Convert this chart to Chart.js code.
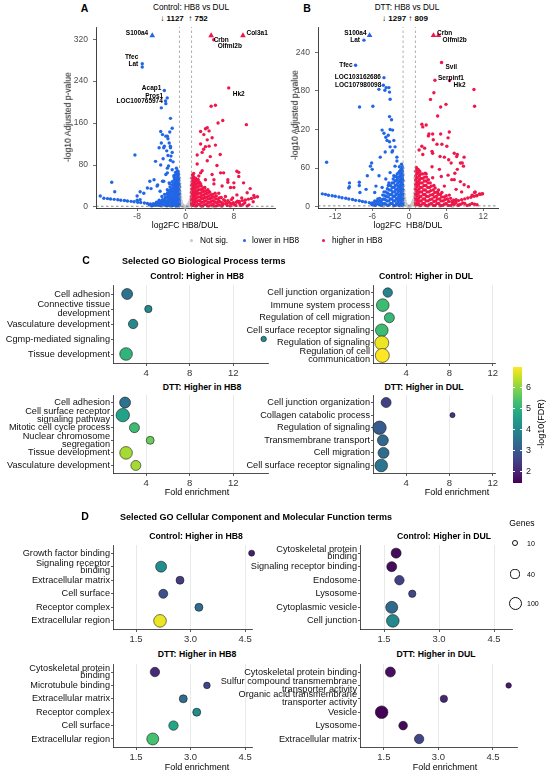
<!DOCTYPE html>
<html><head><meta charset="utf-8">
<script src="https://cdn.jsdelivr.net/npm/chart.js@4.4.1/dist/chart.umd.min.js"></script>
<style>
html,body{margin:0;padding:0;background:#fff;}
#page{position:relative;width:550px;height:774px;overflow:hidden;font-family:'Liberation Sans',Arial,sans-serif;color:#000;background:#fff;}
.t{position:absolute;white-space:pre;line-height:1;}
canvas{position:absolute;}
</style></head><body><div id="page"></div>
<script>
// ---------------- DATA ----------------
// Volcano A (Control: HB8 vs DUL)
const aTicksX = [-8, 0, 8];
const aTicksY = [0, 80, 160, 240, 320];
const aCounts = ['1127', '752'];
const aLowerCapped = [[-5.5, 327]];
const aHigherCapped = [[4.24, 327], [9.5, 327]];
const aLower = [
 [-7.15,273],[-7.15,267],[-3.5,222],[-3.02,208],[-3.25,197],[-4.0,189],[-3.3,202],[-2.48,169],[-8.36,99],
 [-4.1,144],[-3.8,138],[-3.25,135],[-2.9,130],[-2.7,122],[-3.5,116],[-2.48,113],[-4.36,113],[-3.1,107],[-2.2,104],
 [-2.9,98],[-3.7,92],[-2.5,89],[-2.06,86],[-4.95,87],[-4.1,80],[-3.0,74],[-2.2,71],[-5.2,52],[-6.3,36],[-12.2,47],
 [-11.7,29],[-14.1,21],[-8.0,21],[-3.25,62],[-3.8,49],[-2.7,46],[-4.6,42],[-5.7,35],[-1.9,60],[-1.65,66],[-1.5,74],
 [-5.9,49],[-7.5,29],[-6.9,26],[-8.0,13],[-7.5,14],[-4.7,40],[-4.2,30],[-3.6,49],[-3.0,65],[-2.8,78],[-2.4,97],
 [-2.5,116],[-3.6,113],[-4.0,122],[-3.0,135],[-2.6,143],[-2.2,150],
 [-13.5,16.6],[-12.9,15.9],[-12.4,15.1],[-11.8,14.5],[-11.2,13.6],[-10.7,12.9],[-10.1,12.2],[-9.6,11.3],[-9.0,10.7],
 [-8.5,9.9],[-7.9,9.1],[-7.4,8.5],[-6.8,7.6],[-6.3,6.8],[-5.8,5.7],
 [-1.05,3],[-1.1,9],[-1.08,15],[-1.12,22],[-1.1,28],[-1.15,35],[-1.1,41],[-1.2,47],[-1.18,53],[-1.25,58],[-1.3,64],[-1.35,69],
 [-1.3,5],[-1.35,12],[-1.4,18],[-1.38,25],[-1.45,31],[-1.4,38],[-1.5,44],[-1.48,50],[-1.55,56],[-1.6,62],
 [-1.6,2],[-1.65,8],[-1.7,14],[-1.62,21],[-1.75,27],[-1.7,33],[-1.8,39],[-1.78,46],[-1.85,52],[-1.9,57],
 [-1.9,4],[-1.95,11],[-2.0,17],[-2.05,23],[-2.0,30],[-2.1,36],[-2.15,42],[-2.2,48],
 [-2.25,2],[-2.3,7],[-2.35,13],[-2.3,19],[-2.45,26],[-2.5,32],[-2.55,38],[-2.6,44],
 [-2.7,3],[-2.75,9],[-2.8,15],[-2.85,21],[-2.95,27],[-3.0,33],
 [-3.1,2],[-3.2,7],[-3.25,12],[-3.35,18],[-3.45,24],
 [-3.6,4],[-3.7,9],[-3.8,14],[-3.9,20],[-4.1,3],[-4.2,8],[-4.35,13],[-4.6,5],[-4.8,9],[-5.0,3],[-5.3,6],[-5.6,2],[-6.0,4],
 [-1.02,6],[-1.03,12],[-1.05,19],[-1.04,25],[-1.06,32],[-1.05,38],[-1.08,44],[-1.1,50],[-1.12,56],[-1.15,62],[-1.2,67],
 [-1.22,2],[-1.25,8],[-1.22,14],[-1.28,20],[-1.25,27],[-1.3,33],[-1.28,40],[-1.35,46],[-1.32,52],
 [-1.5,4],[-1.52,10],[-1.55,16],[-1.5,23],[-1.58,29],[-1.55,36],[-1.62,42],[-1.65,48],[-1.7,54],
 [-1.8,6],[-1.82,12],[-1.85,18],[-1.88,25],[-1.9,31],[-1.95,37],[-2.0,43],
 [-2.1,3],[-2.15,9],[-2.2,15],[-2.22,21],[-2.28,28],[-2.35,34],
 [-2.45,4],[-2.5,11],[-2.55,17],[-2.62,23],[-2.7,29],
 [-2.9,6],[-2.95,12],[-3.0,18],[-3.1,24],
 [-3.3,3],[-3.4,9],[-3.5,14],[-3.9,6],[-4.0,11],[-4.4,3],[-4.5,9],[-4.9,6],[-5.4,3]
];
const aHigher = [
 [4.67,319],[7.15,227],[4.24,192],[4.95,194],[10.07,157],[6.16,165],[5.38,160],[3.3,149],[3.6,151],[3.03,138],[3.9,145],
 [4.4,132],[2.5,120],[4.95,118],[3.3,115],[1.93,99],[2.75,104],[4.1,96],[5.74,100],[3.6,88],[5.2,79],[8.5,68],[8.8,58],
 [6.3,65],[1.93,82],[2.75,69],[4.4,62],[7.0,52],[8.0,46],[9.6,46],[10.7,35],[11.3,22],[10.2,27],[7.45,37],[6.05,40],
 [4.7,44],[3.3,52],[2.5,44],[2.2,59],[1.4,46],[3.0,36],[3.9,29],[5.5,26],[8.5,23],[9.3,17],
 [2.5,144],[3.6,128],[3.9,116],[3.0,110],[8.8,66],[5.8,65],[4.7,52],[7.0,47],[8.0,37],[2.5,65],[1.9,52],
 [5.6,3.5],[6.2,4.6],[6.8,5.4],[7.4,6.9],[7.9,8.1],[8.4,9.0],[8.9,10.6],[9.4,12.1],[9.9,13.2],[10.4,14.9],[10.9,16.1],[11.4,18.2],[11.9,19.4],
 [1.05,3],[1.1,9],[1.08,16],[1.15,23],[1.1,30],[1.2,37],[1.15,44],[1.25,51],[1.3,58],[1.35,64],
 [1.4,6],[1.45,13],[1.4,20],[1.5,27],[1.48,34],[1.55,41],[1.6,48],[1.65,55],
 [1.8,2],[1.85,10],[1.8,17],[1.9,24],[1.95,31],[2.0,38],[2.05,45],[2.1,52],
 [2.3,5],[2.35,12],[2.4,19],[2.45,26],[2.5,33],[2.6,40],
 [2.8,2],[2.85,9],[2.9,16],[3.0,23],[3.1,30],[3.2,37],
 [3.35,5],[3.4,12],[3.5,19],[3.6,26],[3.7,33],
 [3.9,2],[4.0,9],[4.1,16],[4.2,23],
 [4.5,5],[4.6,12],[4.75,19],[4.9,26],
 [5.1,2],[5.2,8],[5.35,15],[5.7,10],[5.9,18],[6.2,6],[6.5,12],[6.9,3],[7.2,9],[7.6,14],[8.0,5],[8.6,11],[9.1,3],[9.8,8],[10.5,4],[11.2,10],[6.6,20],[7.8,17],
 [1.02,6],[1.03,13],[1.05,20],[1.04,27],[1.06,34],[1.05,41],[1.08,48],[1.1,55],[1.15,61],
 [1.25,3],[1.28,10],[1.25,17],[1.3,24],[1.28,31],[1.35,38],[1.32,45],[1.4,52],
 [1.6,3],[1.62,9],[1.65,16],[1.6,22],[1.7,29],[1.68,36],[1.75,43],[1.8,50],
 [2.05,5],[2.1,12],[2.08,19],[2.15,26],[2.2,33],[2.25,40],[2.3,47],
 [2.55,2],[2.6,9],[2.65,16],[2.7,22],[2.8,29],[2.85,35],
 [3.1,4],[3.15,11],[3.2,18],[3.3,25],[3.4,31],
 [3.65,2],[3.7,8],[3.75,15],[3.85,21],[4.0,28],
 [4.25,4],[4.3,11],[4.4,18],[4.5,24],
 [4.8,2],[4.85,9],[5.0,15],[5.1,21],[5.45,4],[5.5,11],[5.6,17],[6.0,2],[6.0,8],[6.3,14],[6.7,7],[7.0,12],[7.4,2],[7.7,6],[8.3,3],[8.9,7],[9.5,5],[10.2,2]
];
const aNotSig = [
 [-0.95,45],[-0.9,38],[-0.92,30],[-0.85,24],[-0.8,18],[-0.75,13],[-0.7,9],[-0.6,6],[-0.5,4],[-0.4,2.5],[-0.3,1.5],[-0.2,1],
 [-0.1,0.5],[0,0.3],[0.1,0.6],[0.2,1.2],[0.3,2],[0.4,3],[0.5,4.5],[0.6,7],[0.7,10],[0.8,14],[0.85,20],[0.9,27],[0.95,35],[0.93,42],
 [-0.88,12],[-0.78,6],[-0.65,3],[-0.5,1.5],[-0.35,0.6],[0.35,0.8],[0.55,2],[0.7,4],[0.82,8],[0.9,15],[-0.95,20],[-0.9,5],[0.95,5],
 [0.92,55],[-0.97,55],[-1.5,0.8],[-2.5,0.5],[1.6,0.7],[2.8,0.4],[-4,0.3],[4.5,0.5],[6,0.2]
];
const aGenes = ['S100a4','Tfec','Lat','Acap1','Pros1','LOC100765974','Crbn','Olfml2b','Col3a1','Hk2'];
const aGeneX = [-5.5,-7.15,-7.15,-3.5,-3.02,-3.25,4.24,4.67,9.5,7.15];
const aGeneY = [327,273,267,222,208,197,327,319,327,227];

// Volcano B (DTT: HB8 vs DUL)
const bTicksX = [-12, -6, 0, 6, 12];
const bTicksY = [0, 60, 120, 180, 240];
const bCounts = ['1297', '809'];
const bLowerCapped = [[-6.43, 266]];
const bHigherCapped = [[3.94, 266], [4.75, 266]];
const bLower = [
 [-7.35,258.7],[-8.7,219.7],[-4.1,200.5],[-4.2,188.6],[-4.92,182.3],[-3.73,185],[-3.3,185],[-3.95,181],[-3.2,178],[-3.1,167],
 [-8.06,155],[-5.9,156],[-3.2,140],[-2.87,135],[-4.1,114],[-3.8,108],[-4.4,119],[-2.7,119],[-3.6,103],[-2.5,103],[-3.1,93],
 [-3.9,85],[-4.7,77],[-2.8,85],[-2.0,77],[-13.4,69],[-6.0,58],[-4.9,48],[-8.1,38],[-8.1,33],[-6.8,48],[-7.0,27],[-5.4,32],
 [-3.8,43],[-3.1,53],[-2.3,63],[-2.0,71],[-2.5,48],[-3.3,37],[-4.4,30],[-5.6,22],
 [-3.4,111],[-3.1,120],[-6.1,68],[-6.3,63],[-9.8,29],[-9.7,31],[-9.7,37],[-8.0,22],[-2.3,93],[-2.7,87],[-3.2,101],
 [-14.1,20],[-13.6,19.2],[-13.1,17.9],[-12.5,17.1],[-12.0,16.2],[-11.4,15.1],[-10.9,14.0],[-10.3,13.1],[-9.8,11.9],
 [-9.2,11.1],[-8.7,9.9],[-8.1,9.2],[-7.6,8.1],[-7.1,7.4],[-6.5,6.4],[-6.0,5.7],
 [-1.05,3],[-1.1,10],[-1.08,17],[-1.12,24],[-1.1,31],[-1.15,38],[-1.1,45],[-1.2,52],[-1.18,59],[-1.25,66],
 [-1.35,6],[-1.4,13],[-1.38,20],[-1.45,27],[-1.4,34],[-1.5,41],[-1.48,48],[-1.55,55],[-1.6,62],
 [-1.7,2],[-1.75,9],[-1.7,16],[-1.8,23],[-1.78,30],[-1.85,37],[-1.9,44],[-1.95,51],
 [-2.05,5],[-2.1,12],[-2.15,19],[-2.2,26],[-2.25,33],[-2.3,40],[-2.35,47],
 [-2.5,2],[-2.55,9],[-2.6,16],[-2.7,23],[-2.75,30],[-2.8,37],
 [-3.0,5],[-3.05,12],[-3.15,19],[-3.25,26],[-3.4,33],
 [-3.5,2],[-3.6,9],[-3.7,16],[-3.8,23],
 [-4.0,5],[-4.15,12],[-4.3,18],[-4.5,2],[-4.6,8],[-4.8,13],[-5.0,4],[-5.2,9],[-5.5,2],[-5.7,6],[-6.0,3],
 [-1.02,6],[-1.03,13],[-1.05,20],[-1.04,27],[-1.06,34],[-1.05,41],[-1.08,48],[-1.1,55],[-1.12,62],
 [-1.22,2],[-1.25,9],[-1.22,16],[-1.28,23],[-1.25,30],[-1.3,37],[-1.28,44],[-1.35,51],[-1.32,58],
 [-1.55,4],[-1.58,11],[-1.6,18],[-1.55,25],[-1.62,32],[-1.6,39],[-1.68,46],[-1.7,53],
 [-1.88,6],[-1.9,13],[-1.95,20],[-1.98,27],[-2.0,34],[-2.05,41],[-2.1,47],
 [-2.25,2],[-2.3,9],[-2.35,16],[-2.4,23],[-2.45,30],[-2.55,37],[-2.6,43],
 [-2.75,5],[-2.8,12],[-2.85,19],[-2.95,26],[-3.05,33],
 [-3.25,3],[-3.3,9],[-3.4,15],[-3.5,21],[-3.55,28],
 [-3.8,4],[-3.85,11],[-3.95,17],[-4.1,23],[-4.3,5],[-4.4,11],[-4.7,3],[-4.85,8],[-5.1,12],[-5.3,5],[-5.6,9],[-5.85,3],[-6.2,5]
];
const bHigher = [
 [5.24,224],[4.17,196.4],[6.55,196],[10.5,182],[10.6,156],[3.45,166.7],[4.0,177],[5.1,155],[5.96,159],[4.6,141],[2.2,124],
 [2.75,127],[3.2,113],[3.8,113],[5.1,113],[6.5,116],[1.6,88],[2.5,91],[4.5,97],[6.3,107],[2.2,81],[3.8,83],[5.7,77],[7.3,83],
 [7.8,81],[8.9,77],[8.6,68],[7.8,58],[6.8,68],[6.3,49],[4.9,58],[3.8,45],[2.75,51],[7.3,42],[8.3,39],[8.9,34],[7.6,27],
 [5.7,32],[4.6,22],[10.6,22],[11.4,20],[10.9,17],
 [2.05,128],[3.1,110],[3.9,104],[5.3,97],[6.1,94],[2.05,94],[3.7,86],[5.0,78],[6.4,73],[7.7,78],[8.3,68],[8.8,63],[7.4,52],
 [6.9,42],[5.2,47],[3.7,62],[2.6,52],[3.1,42],[9.6,31],[8.5,23],[10.7,23],[10.2,18],[11.8,20],
 [7.0,7],[7.5,8.6],[8.0,9.5],[8.5,10.9],[9.0,12.1],[9.5,13.6],[10.0,14.7],[10.5,16.3],[11.0,17.5],[11.5,19.1],[11.9,20.2],
 [1.05,3],[1.1,10],[1.08,17],[1.15,24],[1.1,31],[1.2,38],[1.15,45],[1.25,52],[1.3,58],
 [1.45,6],[1.5,13],[1.45,20],[1.55,27],[1.5,34],[1.6,41],[1.65,48],[1.7,55],
 [1.9,2],[1.95,9],[1.9,16],[2.0,23],[2.05,30],[2.1,37],[2.15,44],[2.2,51],
 [2.45,5],[2.5,12],[2.55,19],[2.6,26],[2.7,33],[2.75,40],[2.8,46],
 [3.0,2],[3.05,9],[3.1,16],[3.2,23],[3.3,30],[3.4,37],
 [3.6,5],[3.7,12],[3.8,19],[3.9,26],[4.0,33],
 [4.2,2],[4.3,9],[4.4,16],[4.55,23],
 [4.8,5],[4.9,12],[5.05,19],[5.4,2],[5.5,9],[5.7,15],[6.0,5],[6.2,12],[6.5,18],[6.7,2],[6.9,8],[7.3,4],[7.6,11],[8.1,3],[8.7,6],[9.4,2],[10.2,5],[11.0,3],
 [1.02,6],[1.03,13],[1.05,20],[1.04,27],[1.06,34],[1.05,41],[1.08,48],[1.1,55],[1.15,61],
 [1.25,3],[1.28,10],[1.25,17],[1.3,24],[1.28,31],[1.35,38],[1.32,45],[1.4,52],[1.45,58],
 [1.65,3],[1.7,9],[1.72,16],[1.7,23],[1.78,30],[1.8,37],[1.85,44],[1.9,51],
 [2.2,5],[2.25,12],[2.3,19],[2.35,26],[2.4,33],[2.45,40],[2.5,46],
 [2.7,2],[2.75,9],[2.8,16],[2.9,23],[3.0,30],[3.05,37],
 [3.3,4],[3.35,11],[3.45,18],[3.5,25],[3.6,32],
 [3.9,2],[4.0,8],[4.05,15],[4.15,22],[4.2,29],
 [4.5,5],[4.55,12],[4.7,19],[4.75,26],
 [5.1,2],[5.15,9],[5.25,15],[5.3,22],[5.7,4],[5.8,11],[6.0,17],[6.3,2],[6.4,8],[6.7,13],[7.0,4],[7.2,10],[7.6,6],[7.9,2],[8.4,4],[9.0,5],[9.8,3],[10.6,4]
];
const bNotSig = [
 [-0.95,50],[-0.9,40],[-0.92,32],[-0.85,25],[-0.8,19],[-0.75,14],[-0.7,10],[-0.6,6],[-0.5,4],[-0.4,2.5],[-0.3,1.5],[-0.2,1],
 [-0.1,0.5],[0,0.3],[0.1,0.6],[0.2,1.2],[0.3,2],[0.4,3],[0.5,4.5],[0.6,7],[0.7,10],[0.8,15],[0.85,21],[0.9,28],[0.95,36],
 [0.93,45],[-0.88,12],[-0.78,6],[-0.65,3],[0.82,8],[0.9,16],[-0.95,22],[-0.9,5],[0.95,6],[-0.97,60],[0.96,55],
 [-1.5,0.7],[-2.6,0.5],[1.7,0.8],[3.0,0.4],[-4.2,0.3],[5,0.5],[7,0.2]
];
const bGenes = ['S100a4','Lat','Tfec','LOC103162686','LOC107980098','Crbn','Olfml2b','Svil','Serpinf1','Hk2'];
const bGeneX = [-6.43,-7.35,-8.7,-4.1,-4.2,3.94,4.75,5.24,4.17,6.55];
const bGeneY = [266,258.7,219.7,200.5,188.6,266,266,224,196.4,196];

const fcThreshold = 1;
const padjLine = 1.3;

// GO Biological Process (panel C)
const cTicks = [4, 8, 12];
const cCtrlHB8Terms = ['Cell adhesion', ['Connective tissue','development'], 'Vasculature development', 'Cgmp-mediated signaling', 'Tissue development'];
const cCtrlHB8Fold = [2.25, 4.2, 2.8, 14.8, 2.15];
const cCtrlHB8Fdr = [3.5, 4.0, 4.0, 4.1, 5.0];
const cCtrlHB8Genes = [64, 20, 42, 7, 93];

const cCtrlDULTerms = ['Cell junction organization', 'Immune system process', 'Regulation of cell migration', 'Cell surface receptor signaling', 'Regulation of signaling', ['Regulation of cell','communication']];
const cCtrlDULFold = [2.31, 1.85, 2.46, 1.76, 1.76, 1.81];
const cCtrlDULFdr = [3.9, 5.2, 5.1, 5.2, 6.8, 6.95];
const cCtrlDULGenes = [42, 93, 50, 93, 120, 120];

const cDttHB8Terms = ['Cell adhesion', ['Cell surface receptor','signaling pathway'], 'Mitotic cell cycle process', ['Nuclear chromosome','segregation'], 'Tissue development', 'Vasculature development'];
const cDttHB8Fold = [2.06, 1.85, 2.92, 4.37, 2.15, 3.05];
const cDttHB8Fdr = [3.5, 4.6, 5.2, 5.7, 6.2, 6.2];
const cDttHB8Genes = [64, 108, 50, 26, 93, 50];

const cDttDULTerms = ['Cell junction organization', 'Collagen catabolic process', 'Regulation of signaling', 'Transmembrane transport', 'Cell migration', 'Cell surface receptor signaling'];
const cDttDULFold = [2.16, 8.28, 1.55, 1.86, 1.92, 1.71];
const cDttDULFdr = [2.5, 2.3, 3.0, 3.3, 3.4, 3.6];
const cDttDULGenes = [50, 5, 108, 64, 64, 93];

// GO Cellular Component / Molecular Function (panel D)
const dTicks = [1.5, 3.0, 4.5];
const dCtrlHB8Terms = ['Growth factor binding', ['Signaling receptor','binding'], 'Extracellular matrix', 'Cell surface', 'Receptor complex', 'Extracellular region'];
const dCtrlHB8Fold = [4.68, 2.19, 2.71, 2.25, 3.23, 2.16];
const dCtrlHB8Fdr = [1.9, 4.1, 2.4, 2.8, 3.4, 6.8];
const dCtrlHB8Genes = [10, 64, 26, 37, 26, 93];

const dCtrlDULTerms = [['Cytoskeletal protein','binding'], 'Signaling receptor binding', 'Endosome', 'Lysosome', 'Cytoplasmic vesicle', 'Cell junction'];
const dCtrlDULFold = [1.83, 1.71, 1.92, 2.27, 1.71, 1.74];
const dCtrlDULFdr = [1.6, 1.6, 2.5, 2.6, 3.3, 4.0];
const dCtrlDULGenes = [50, 50, 42, 20, 81, 93];

const dDttHB8Terms = [['Cytoskeletal protein','binding'], 'Microtubule binding', 'Extracellular matrix', 'Receptor complex', 'Cell surface', 'Extracellular region'];
const dDttHB8Fold = [2.02, 3.45, 2.80, 3.17, 2.53, 1.96];
const dDttHB8Fdr = [2.1, 2.6, 3.4, 4.1, 4.7, 5.3];
const dDttHB8Genes = [42, 14, 26, 26, 42, 81];

const dDttDULTerms = ['Cytoskeletal protein binding', ['Sulfur compound transmembrane','transporter activity'], ['Organic acid transmembrane','transporter activity'], 'Vesicle', 'Lysosome', 'Extracellular matrix'];
const dDttDULFold = [1.68, 4.93, 3.15, 1.44, 2.03, 2.47];
const dDttDULFdr = [1.65, 1.85, 2.0, 1.45, 1.55, 2.6];
const dDttDULGenes = [50, 7, 20, 93, 33, 42];

// colour / size legends
const fdrLimits = [1.43, 6.95];
const fdrTicks = [2, 3, 4, 5, 6];
const geneLegend = [10, 40, 100];

// ---------------- STYLE / LAYOUT ----------------
const FONT = "'Liberation Sans', Arial, sans-serif";
Chart.defaults.font.family = FONT;
Chart.defaults.color = '#333';
const PAGE = document.getElementById('page');
const COL_LOW = '#2166e6', COL_HIGH = '#f0164a', COL_NS = '#c9c9c9';
const VIR = ['#440154','#482475','#414487','#355f8d','#2a788e','#21918c','#22a884','#44bf70','#7ad151','#bddf26','#fde725'];
function hx(h){return [1,3,5].map(i=>parseInt(h.substr(i,2),16));}
function viridis(t){
  t = Math.max(0, Math.min(1, t));
  const f = t*10, i = Math.min(9, Math.floor(f)), u = f - i;
  const a = hx(VIR[i]), b = hx(VIR[i+1]);
  return 'rgb(' + a.map((v,k)=>Math.round(v + (b[k]-v)*u)).join(',') + ')';
}
const fdrColor = v => viridis((v - fdrLimits[0]) / (fdrLimits[1] - fdrLimits[0]));
const sizeOf = g => 1.38 + 0.512*Math.sqrt(g);

function txt(s, x, y, o) {
  o = o || {};
  const d = document.createElement('div');
  d.className = 't';
  d.textContent = s;
  d.style.left = x + 'px'; d.style.top = y + 'px';
  d.style.fontSize = (o.size || 9) + 'px';
  if (o.bold) d.style.fontWeight = 'bold';
  if (o.color) d.style.color = o.color;
  const al = o.align || 'c';
  let tr = al === 'c' ? 'translate(-50%,-50%)' : al === 'r' ? 'translate(-100%,-50%)' : 'translate(0,-50%)';
  if (o.rot) tr = 'translate(-50%,-50%) rotate(-90deg)';
  d.style.transform = tr;
  PAGE.appendChild(d);
  return d;
}
function box(x, y, w, h, css) {
  const d = document.createElement('div');
  d.style.position = 'absolute';
  d.style.left = x + 'px'; d.style.top = y + 'px'; d.style.width = w + 'px'; d.style.height = h + 'px';
  Object.assign(d.style, css || {});
  PAGE.appendChild(d);
  return d;
}

function chartAt(area, yW, xH, cfg) {
  const padT = 10, padR = 12, padB = 4, padL = 2;
  const left = area.l - yW - padL, top = area.t - padT;
  const w = area.r - area.l + yW + padL + padR, h = area.b - area.t + padT + padB + xH;
  const c = document.createElement('canvas');
  c.width = w; c.height = h;
  c.style.left = left + 'px'; c.style.top = top + 'px';
  c.style.width = w + 'px'; c.style.height = h + 'px';
  PAGE.appendChild(c);
  const o = cfg.options;
  o.responsive = false; o.animation = false; o.events = [];
  o.layout = { padding: { left: padL, top: padT, right: padR, bottom: padB } };
  o.plugins = Object.assign({ legend: { display: false }, tooltip: { enabled: false } }, o.plugins || {});
  o.scales.x.afterFit = s => { s.height = xH; };
  o.scales.y.afterFit = s => { s.width = yW; };
  return new Chart(c, cfg);
}

function geneLabelPlugin(names, xs, ys, offsets) {
  return {
    id: 'geneLabels',
    afterDatasetsDraw(chart) {
      const ctx = chart.ctx;
      ctx.save();
      ctx.font = 'bold 6.5px ' + FONT;
      ctx.fillStyle = '#000';
      ctx.textBaseline = 'middle';
      names.forEach((n, i) => {
        const px = chart.scales.x.getPixelForValue(xs[i]);
        const py = chart.scales.y.getPixelForValue(ys[i]);
        const dx = offsets[i][0], dy = offsets[i][1];
        ctx.textAlign = dx < 0 ? 'right' : 'left';
        ctx.fillText(n, px + dx, py + dy);
      });
      ctx.restore();
    }
  };
}

const pts = arr => arr.map(p => ({ x: p[0], y: p[1] }));

function volcano(area, xr, yr, ticksX, ticksY, notSig, lower, higher, lowerCap, higherCap, labelPlugin) {
  const ptDs = (data, col, order) => ({ data: pts(data), backgroundColor: col, borderWidth: 0, pointRadius: 1.7, order: order, clip: false });
  const triDs = (data, col) => ({ data: pts(data), backgroundColor: col, borderColor: col, borderWidth: 0, pointRadius: 3.3, pointStyle: 'triangle', order: 1, clip: false });
  const lineDs = (data, col) => ({ data: data, showLine: true, borderColor: col, borderWidth: 0.7, borderDash: [2.5, 2.5], pointRadius: 0, order: 0 });
  return chartAt(area, 40, 16, {
    type: 'scatter',
    data: { datasets: [
      lineDs([{x:-fcThreshold,y:yr[0]},{x:-fcThreshold,y:yr[1]}], '#8a8a8a'),
      lineDs([{x:fcThreshold,y:yr[0]},{x:fcThreshold,y:yr[1]}], '#8a8a8a'),
      lineDs([{x:xr[0],y:padjLine},{x:xr[1],y:padjLine}], '#555'),
      triDs(lowerCap, COL_LOW), triDs(higherCap, COL_HIGH),
      ptDs(lower, COL_LOW, 2), ptDs(higher, COL_HIGH, 2), ptDs(notSig, COL_NS, 3)
    ] },
    options: {
      scales: {
        x: { type: 'linear', min: xr[0], max: xr[1],
             afterBuildTicks: s => { s.ticks = ticksX.map(v => ({ value: v })); },
             ticks: { autoSkip: false, maxRotation: 0, padding: 1, color: '#4d4d4d', font: { size: 8.5 }, callback: v => String(v) },
             grid: { drawOnChartArea: false, tickLength: 3, tickColor: '#333', tickWidth: 0.7 },
             border: { color: '#111', width: 0.8 } },
        y: { type: 'linear', min: yr[0], max: yr[1],
             afterBuildTicks: s => { s.ticks = ticksY.map(v => ({ value: v })); },
             ticks: { autoSkip: false, padding: 5, color: '#4d4d4d', font: { size: 8.5 }, callback: v => String(v) },
             grid: { drawOnChartArea: false, tickLength: 3, tickColor: '#333', tickWidth: 0.7 },
             border: { color: '#111', width: 0.8 } }
      }
    },
    plugins: [labelPlugin]
  });
}

function goPanel(area, terms, fold, fdr, genes, xr, xticks, yW, fmt, lh) {
  const n = terms.length;
  return chartAt(area, yW, 16, {
    type: 'bubble',
    data: { datasets: [{
      data: fold.map((f, i) => ({ x: f, y: i, r: sizeOf(genes[i]) })),
      backgroundColor: fdr.map(fdrColor),
      borderColor: '#1a1a1a', borderWidth: 0.6, clip: false
    }] },
    options: {
      scales: {
        x: { type: 'linear', min: xr[0], max: xr[1],
             afterBuildTicks: s => { s.ticks = xticks.map(v => ({ value: v })); },
             ticks: { autoSkip: false, maxRotation: 0, padding: 2, color: '#333', font: { size: 9.5 }, callback: fmt },
             grid: { color: '#e3e3e3', lineWidth: 0.8, tickLength: 3, tickColor: '#333', tickWidth: 0.8 },
             border: { color: '#222', width: 0.8 } },
        y: { type: 'linear', reverse: true, min: -0.6, max: n - 0.4,
             afterBuildTicks: s => { s.ticks = terms.map((_, i) => ({ value: i })); },
             ticks: { autoSkip: false, padding: 1, color: '#111', font: { size: 9.2, lineHeight: lh }, callback: v => terms[v] },
             grid: { drawOnChartArea: false, tickLength: 2, tickColor: '#333', tickWidth: 0.8 },
             border: { color: '#222', width: 0.8 } }
      }
    }
  });
}

// ---------------- PANEL A / B ----------------
txt('A', 84.5, 8, { size: 10.5, bold: true });
txt('Control: HB8 vs DUL', 191, 8, { size: 8.2 });
txt('↓ ' + aCounts[0] + '  ↑ ' + aCounts[1], 184, 18.5, { size: 8, bold: true });
txt('B', 307, 8, { size: 10.5, bold: true });
txt('DTT: HB8 vs DUL', 407, 8, { size: 8.2 });
txt('↓ ' + bCounts[0] + ' ↑ ' + bCounts[1], 405, 18.5, { size: 8, bold: true });

volcano({ l: 95.5, r: 275, t: 27, b: 208 }, [-14.8, 14.8], [-2, 343], aTicksX, aTicksY,
  aNotSig, aLower, aHigher, aLowerCapped, aHigherCapped,
  geneLabelPlugin(aGenes, aGeneX, aGeneY, [[-4,-2],[-4,-6.5],[-4,-3],[-3,-2],[-4,-2],[-3,-2],[2.5,5],[4,6.5],[3.5,-2],[4,6.5]]));
volcano({ l: 318, r: 498, t: 27, b: 208 }, [-14.8, 14.4], [-2, 279], bTicksX, bTicksY,
  bNotSig, bLower, bHigher, bLowerCapped, bHigherCapped,
  geneLabelPlugin(bGenes, bGeneX, bGeneY, [[-3,-2],[-4,0],[-3,0],[-3,0],[-2,0],[3.5,-2],[4,5],[4,5],[3,-2],[4,5]]));

txt('-log10 Adjusted p-value', 68, 117, { size: 8.6, rot: true });
txt('-log10 Adjusted p-value', 295, 115, { size: 8.6, rot: true });
txt('log2FC HB8/DUL', 185, 225, { size: 8.6 });
txt('log2FC  HB8/DUL', 408, 225, { size: 8.6 });

// legend
box(189.5, 238.5, 3, 3, { background: COL_NS, borderRadius: '50%' });
txt('Not sig.', 200, 240, { size: 8.3, align: 'l' });
box(242.5, 238.5, 3, 3, { background: COL_LOW, borderRadius: '50%' });
txt('lower in HB8', 252, 240, { size: 8.3, align: 'l' });
box(321.5, 238.5, 3, 3, { background: COL_HIGH, borderRadius: '50%' });
txt('higher in HB8', 332, 240, { size: 8.3, align: 'l' });

// ---------------- PANEL C ----------------
txt('C', 86, 260, { size: 10.5, bold: true });
txt('Selected GO Biological Process terms', 122, 261, { size: 9, bold: true, align: 'l' });
txt('Control: Higher in HB8', 197, 276, { size: 8.7, bold: true });
txt('Control: Higher in DUL', 426, 276, { size: 8.7, bold: true });
txt('DTT: Higher in HB8', 202, 387, { size: 8.7, bold: true });
txt('DTT: Higher in DUL', 424, 387, { size: 8.7, bold: true });

const fmtInt = v => String(v);
const fmt1 = v => v.toFixed(1);
goPanel({ l: 113, r: 268, t: 285, b: 363 }, cCtrlHB8Terms, cCtrlHB8Fold, cCtrlHB8Fdr, cCtrlHB8Genes, [0.95, 15.2], cTicks, 115, fmtInt, 1.05);
goPanel({ l: 373, r: 495, t: 285, b: 363 }, cCtrlDULTerms, cCtrlDULFold, cCtrlDULFdr, cCtrlDULGenes, [0.95, 12.2], cTicks, 140, fmtInt, 0.85);
goPanel({ l: 113, r: 268, t: 395, b: 473 }, cDttHB8Terms, cDttHB8Fold, cDttHB8Fdr, cDttHB8Genes, [0.95, 15.2], cTicks, 115, fmtInt, 0.85);
goPanel({ l: 373, r: 495, t: 395, b: 473 }, cDttDULTerms, cDttDULFold, cDttDULFdr, cDttDULGenes, [0.95, 12.2], cTicks, 140, fmtInt, 0.85);
txt('Fold enrichment', 197, 492, { size: 9 });
txt('Fold enrichment', 457, 492, { size: 9 });

// colour bar
(function () {
  const x = 513, top = 367, w = 9, h = 116;
  const stops = VIR.map((c, i) => c + ' ' + (i * 10) + '%').join(',');
  box(x, top, w, h, { background: 'linear-gradient(to top,' + stops + ')' });
  fdrTicks.forEach(v => {
    const y = top + h - (v - fdrLimits[0]) / (fdrLimits[1] - fdrLimits[0]) * h;
    box(x, y - 0.4, 2, 0.8, { background: '#fff' });
    box(x + w - 2, y - 0.4, 2, 0.8, { background: '#fff' });
    txt(String(v), x + w + 4, y, { size: 9, align: 'l', color: '#222' });
  });
  txt('-log10(FDR)', 541, 424, { size: 9, rot: true });
})();

// ---------------- PANEL D ----------------
txt('D', 85, 516, { size: 10.5, bold: true });
txt('Selected GO Cellular Component and Molecular Function terms', 120, 517, { size: 9, bold: true, align: 'l' });
txt('Control: Higher in HB8', 196, 536, { size: 8.7, bold: true });
txt('Control: Higher in DUL', 444, 536, { size: 8.7, bold: true });
txt('DTT: Higher in HB8', 197, 654, { size: 8.7, bold: true });
txt('DTT: Higher in DUL', 436, 654, { size: 8.7, bold: true });

goPanel({ l: 113, r: 252, t: 545, b: 629 }, dCtrlHB8Terms, dCtrlHB8Fold, dCtrlHB8Fdr, dCtrlHB8Genes, [0.867, 4.69], dTicks, 115, fmt1, 0.8);
goPanel({ l: 360, r: 512, t: 545, b: 629 }, dCtrlDULTerms, dCtrlDULFold, dCtrlDULFdr, dCtrlDULGenes, [0.845, 4.99], dTicks, 150, fmt1, 0.8);
goPanel({ l: 113, r: 252, t: 664, b: 747 }, dDttHB8Terms, dDttHB8Fold, dDttHB8Fdr, dDttHB8Genes, [0.867, 4.69], dTicks, 115, fmt1, 0.8);
goPanel({ l: 360, r: 517, t: 664, b: 747 }, dDttDULTerms, dDttDULFold, dDttDULFdr, dDttDULGenes, [0.845, 5.16], dTicks, 150, fmt1, 0.9);
txt('Fold enrichment', 197, 767, { size: 9 });
txt('Fold enrichment', 445, 767, { size: 9 });

// size legend
txt('Genes', 522, 523, { size: 8.6 });
[543, 574, 603].forEach((y, i) => {
  const r = sizeOf(geneLegend[i]);
  box(515 - r, y - r, 2 * r, 2 * r, { border: '0.8px solid #111', borderRadius: '50%', boxSizing: 'border-box' });
  txt(String(geneLegend[i]), 527, y, { size: 7, align: 'l' });
});
</script></body></html>
